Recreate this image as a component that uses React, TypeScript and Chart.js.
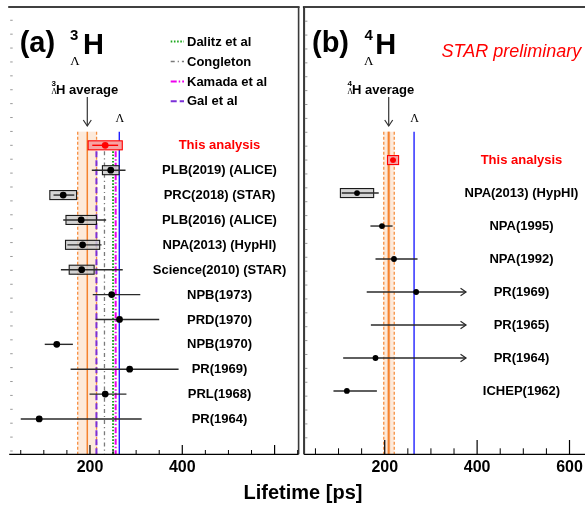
import React, { useEffect, useRef } from "react";
import { Chart, registerables } from "chart.js";

Chart.register(...registerables);

// ---------------- Panel (a): 3-Lambda-H ----------------
const ROWS_A = [
  "This analysis",
  "PLB(2019) (ALICE)",
  "PRC(2018) (STAR)",
  "PLB(2016) (ALICE)",
  "NPA(2013) (HypHI)",
  "Science(2010) (STAR)",
  "NPB(1973)",
  "PRD(1970)",
  "NPB(1970)",
  "PR(1969)",
  "PRL(1968)",
  "PR(1964)",
];
const VALUES_A: (number | null)[] = [233, 245, 142, 181, 184, 182, 247, 264, 128, 286, 233, 90];
const LOW_A = [205, 204, 121, 142, 151, 137, 206, 212, 102, 158, 199, 50];
const HIGH_A = [261, 277, 166, 235, 225, 271, 309, 350, 163, 392, 279, 312];
const SYS_A = [37, 18, 29, 33, 37, 27, 0, 0, 0, 0, 0, 0];
const LIMIT_A = [false, false, false, false, false, false, false, false, false, false, false, false];

const THEORY_NAMES = ["Dalitz et al", "Congleton", "Kamada et al", "Gal et al"];
const THEORY_VALUES = [250, 231.4, 255.7, 214];
const AVERAGE_A = [173.4, 194.2, 214.3]; // low, central, high

// ---------------- Panel (b): 4-Lambda-H ----------------
const ROWS_B = [
  "This analysis",
  "NPA(2013) (HypHI)",
  "NPA(1995)",
  "NPA(1992)",
  "PR(1969)",
  "PR(1965)",
  "PR(1964)",
  "ICHEP(1962)",
];
const VALUES_B: (number | null)[] = [218, 140, 194, 220, 268, null, 180, 118];
const LOW_B = [212, 107, 169, 180, 161, 170, 110, 89];
const HIGH_B = [224, 187, 217, 271, 376, 376, 376, 183];
const SYS_B = [12, 36, 0, 0, 0, 0, 0, 0];
const LIMIT_B = [false, false, false, false, true, true, true, false];
const AVERAGE_B = [197.9, 208.6, 220.6];
const AVERAGE_INNER_B = [205.5, 211.8];

const LAMBDA_LIFETIME = 263.5;
const MINOR_TICKS = [50, 100, 150, 250, 300, 350, 450, 500, 550, 650];
const MAJOR_TICKS = [200, 400, 600];
const TICK_LABELS_A = [200, 400];
const TICK_LABELS_B = [200, 400, 600];

// ---------------- styles ----------------
const SANS = '"Liberation Sans", Arial, Helvetica, sans-serif';
const SERIF = '"Liberation Serif", "Times New Roman", serif';
const ORANGE = "#f5822e";
const ORANGE_DASH = "#f78f40";
const PEACH = "#fdeadb";
const BLUE = "#1010ff";
const RED = "#ff0000";
const THEORY_STYLES = [
  { color: "#1fa81f", dash: [1.6, 1.6], width: 2 },
  { color: "#7a7a7a", dash: [4, 3, 1.2, 3], width: 1.3 },
  { color: "#ee00ee", dash: [6, 2, 1.5, 2], width: 2 },
  { color: "#7b2fd8", dash: [6, 3], width: 2 },
];

type Cfg = {
  key: string;
  width: number;
  height: number;
  pad: { left: number; right: number; top: number; bottom: number };
  xMin: number;
  xMax: number;
  yMin: number;
  yMax: number;
  rows: string[];
  values: (number | null)[];
  low: number[];
  high: number[];
  sys: number[];
  limit: boolean[];
  average: number[];
  inner?: number[];
  lineTop: number;
  theoryTop?: number;
  withTheory: boolean;
  tickLabels: number[];
  minorLen: number;
  majorLen: number;
  pointRadius: number;
  labelX: number;
  yTickStep: number;
  drawDivider: boolean;
  decorate: (ctx: CanvasRenderingContext2D, chart: any) => void;
};

function txt(
  ctx: CanvasRenderingContext2D,
  s: string,
  x: number,
  y: number,
  font: string,
  color = "#000",
  align: CanvasTextAlign = "left",
  base: CanvasTextBaseline = "alphabetic"
) {
  ctx.font = font;
  ctx.fillStyle = color;
  ctx.textAlign = align;
  ctx.textBaseline = base;
  ctx.fillText(s, x, y);
}

function line(ctx: CanvasRenderingContext2D, x0: number, y0: number, x1: number, y1: number, color: string, w: number, dash: number[] = []) {
  ctx.save();
  ctx.strokeStyle = color;
  ctx.lineWidth = w;
  ctx.setLineDash(dash);
  ctx.beginPath();
  ctx.moveTo(x0, y0);
  ctx.lineTo(x1, y1);
  ctx.stroke();
  ctx.restore();
}

function drawTitle(ctx: CanvasRenderingContext2D, letter: string, mass: string, p: number[]) {
  txt(ctx, letter, p[0], 52, `bold 29px ${SANS}`);
  txt(ctx, mass, p[1], 40, `bold 15px ${SANS}`);
  txt(ctx, "H", p[2], 53.5, `bold 29px ${SANS}`);
  txt(ctx, "Λ", p[3], 65, `13px ${SERIF}`);
}

function drawAverageNote(ctx: CanvasRenderingContext2D, chart: any, mass: string, x0: number, avg: number) {
  txt(ctx, mass, x0, 85.5, `bold 8px ${SANS}`);
  txt(ctx, "Λ", x0 - 0.2, 94, `8px ${SERIF}`);
  txt(ctx, "H average", x0 + 4.5, 94, `bold 13px ${SANS}`);
  const ax = chart.scales.x.getPixelForValue(avg);
  line(ctx, ax, 97, ax, 126, "#333", 1.2);
  ctx.save();
  ctx.strokeStyle = "#333";
  ctx.lineWidth = 1.2;
  ctx.beginPath();
  ctx.moveTo(ax - 4, 120);
  ctx.lineTo(ax, 126);
  ctx.lineTo(ax + 4, 120);
  ctx.stroke();
  ctx.restore();
  const lx = chart.scales.x.getPixelForValue(LAMBDA_LIFETIME);
  txt(ctx, "Λ", lx + 0.5, 121.5, `12px ${SERIF}`, "#000", "center");
}

function makePlugin(c: Cfg, pointsIndex: number) {
  return {
    id: "panel" + c.key,
    beforeDatasetsDraw(chart: any) {
      const { ctx, chartArea } = chart;
      const { x, y } = chart.scales;
      const top = y.getPixelForValue(c.lineTop);
      const x0 = x.getPixelForValue(c.average[0]);
      const x1 = x.getPixelForValue(c.average[2]);
      ctx.save();
      ctx.fillStyle = PEACH;
      ctx.fillRect(x0, top, x1 - x0, chartArea.bottom - top);
      if (c.inner) {
        const i0 = x.getPixelForValue(c.inner[0]);
        const i1 = x.getPixelForValue(c.inner[1]);
        ctx.fillStyle = "#f9b383";
        ctx.fillRect(i0, top, i1 - i0, chartArea.bottom - top);
      }
      ctx.restore();
    },
    beforeDatasetDraw(chart: any, args: any) {
      if (args.index !== pointsIndex) return;
      const { ctx } = chart;
      const { x, y } = chart.scales;
      c.rows.forEach((_, i) => {
        const yy = y.getPixelForValue(i);
        const isThis = i === 0;
        const v = c.values[i];
        if (c.sys[i] > 0 && v !== null) {
          const b0 = x.getPixelForValue(v - c.sys[i]);
          const b1 = x.getPixelForValue(v + c.sys[i]);
          ctx.save();
          ctx.fillStyle = isThis ? "#f6a4a4" : "rgba(205,205,205,0.85)";
          ctx.fillRect(b0, yy - 4.5, b1 - b0, 9);
          ctx.strokeStyle = isThis ? RED : "#1a1a1a";
          ctx.lineWidth = 1.1;
          ctx.strokeRect(b0, yy - 4.5, b1 - b0, 9);
          ctx.restore();
        }
        const l0 = x.getPixelForValue(c.low[i]);
        const l1 = x.getPixelForValue(c.high[i]);
        const col = isThis ? RED : "#2a2a2a";
        line(ctx, l0, yy, l1, yy, col, 1.4);
        if (c.limit[i]) {
          ctx.save();
          ctx.strokeStyle = col;
          ctx.lineWidth = 1.2;
          ctx.beginPath();
          ctx.moveTo(l1 - 5.5, yy - 3.8);
          ctx.lineTo(l1, yy);
          ctx.lineTo(l1 - 5.5, yy + 3.8);
          ctx.stroke();
          ctx.restore();
        }
      });
    },
    afterDraw(chart: any) {
      const { ctx, chartArea } = chart;
      const { x, y } = chart.scales;
      const L = chartArea.left;
      const R = chartArea.right;
      const T = chartArea.top;
      const B = chartArea.bottom;
      // frame
      line(ctx, L - 1, T, R + 1, T, "#000", 1.4);
      line(ctx, L, B, R, B, "#000", 1.2);
      if (!c.drawDivider) line(ctx, L, T, L, B, "#000", 1.2);
      else line(ctx, R, T, R, B, "#3a3a3a", 1.6);
      if (c.key === "b") line(ctx, L + 0.4, T, L + 0.4, B, "#3a3a3a", 1.6);
      // y ticks (unlabelled)
      for (let v = 0; v >= c.yMin; v -= c.yTickStep) {
        const py = y.getPixelForValue(v);
        if (py > T + 3) line(ctx, L + 1, py, L + 3.5, py, "#999", 1);
      }
      for (let v = c.yTickStep; v <= c.yMax; v += c.yTickStep) {
        const py = y.getPixelForValue(v);
        if (py < B - 3) line(ctx, L + 1, py, L + 3.5, py, "#999", 1);
      }
      // x ticks
      MINOR_TICKS.forEach((t) => {
        if (t <= c.xMin || t >= c.xMax) return;
        const px = x.getPixelForValue(t);
        line(ctx, px, B, px, B - c.minorLen, "#000", 1);
      });
      MAJOR_TICKS.forEach((t) => {
        if (t <= c.xMin || t >= c.xMax) return;
        const px = x.getPixelForValue(t);
        line(ctx, px, B, px, B - c.majorLen, "#000", 1.2);
      });
      c.tickLabels.forEach((t) => {
        txt(ctx, String(t), x.getPixelForValue(t), 467.5, `bold 16px ${SANS}`, "#000", "center", "middle");
      });
      // row labels
      c.rows.forEach((r, i) => {
        txt(ctx, r, c.labelX, y.getPixelForValue(i) + 0.5, `bold 13px ${SANS}`, i === 0 ? RED : "#000", "center", "middle");
      });
      c.decorate(ctx, chart);
    },
  };
}

function buildConfig(c: Cfg) {
  const datasets: any[] = [];
  const vline = (v: number, top: number, color: string, width: number, dash: number[], order: number) => ({
    data: [
      { x: v, y: top },
      { x: v, y: c.yMax },
    ],
    showLine: true,
    borderColor: color,
    borderWidth: width,
    borderDash: dash,
    pointRadius: 0,
    pointHoverRadius: 0,
    fill: false,
    order,
  });
  datasets.push(vline(c.average[0], c.lineTop, ORANGE_DASH, 1.3, [3, 2], 6));
  datasets.push(vline(c.average[2], c.lineTop, ORANGE_DASH, 1.3, [3, 2], 6));
  datasets.push(vline(c.average[1], c.lineTop, ORANGE, 1.5, [], 5));
  if (c.withTheory) {
    THEORY_VALUES.forEach((v, i) => {
      const s = THEORY_STYLES[i];
      datasets.push(vline(v, c.theoryTop as number, s.color, s.width, s.dash, 4));
    });
  }
  datasets.push(vline(LAMBDA_LIFETIME, c.lineTop, BLUE, 1.3, [], 3));
  const pts: { x: number; y: number }[] = [];
  const colors: string[] = [];
  c.values.forEach((v, i) => {
    if (v === null) return;
    pts.push({ x: v, y: i });
    colors.push(i === 0 ? RED : "#000");
  });
  datasets.push({
    data: pts,
    showLine: false,
    pointRadius: c.pointRadius,
    pointHoverRadius: c.pointRadius,
    pointBackgroundColor: colors,
    pointBorderColor: colors,
    pointBorderWidth: 0,
    order: 0,
  });
  const pointsIndex = datasets.length - 1;
  return {
    type: "scatter" as const,
    data: { datasets },
    options: {
      animation: false as const,
      responsive: false,
      devicePixelRatio: 1,
      events: [],
      layout: { padding: c.pad },
      plugins: { legend: { display: false }, tooltip: { enabled: false }, title: { display: false } },
      scales: {
        x: { type: "linear" as const, min: c.xMin, max: c.xMax, display: false },
        y: { type: "linear" as const, min: c.yMin, max: c.yMax, reverse: true, display: false },
      },
    },
    plugins: [makePlugin(c, pointsIndex)],
  };
}

const CFG_A: Cfg = {
  key: "a",
  width: 302,
  height: 506,
  pad: { left: 9.2, right: 0.8, top: 7, bottom: 51.7 },
  xMin: 25,
  xMax: 652,
  yMin: -5.56,
  yMax: 12.42,
  rows: ROWS_A,
  values: VALUES_A,
  low: LOW_A,
  high: HIGH_A,
  sys: SYS_A,
  limit: LIMIT_A,
  average: AVERAGE_A,
  lineTop: -0.55,
  theoryTop: 0.24,
  withTheory: true,
  tickLabels: TICK_LABELS_A,
  minorLen: 4.3,
  majorLen: 9.3,
  pointRadius: 3.4,
  labelX: 219.5,
  yTickStep: 0.5585,
  drawDivider: true,
  decorate: (ctx, chart) => {
    drawTitle(ctx, "(a)", "3", [19.7, 70, 83, 70.3]);
    drawAverageNote(ctx, chart, "3", 51.5, AVERAGE_A[1]);
    const ly = [41.5, 61.5, 81.5, 101.2];
    THEORY_NAMES.forEach((n, i) => {
      const s = THEORY_STYLES[i];
      line(ctx, 170.7, ly[i], 184, ly[i], s.color, s.width, s.dash);
      txt(ctx, n, 187, ly[i] + 0.5, `bold 13px ${SANS}`, "#000", "left", "middle");
    });
  },
};

const CFG_B: Cfg = {
  key: "b",
  width: 299,
  height: 506,
  pad: { left: 0.1, right: 7.4, top: 7, bottom: 51.7 },
  xMin: 25,
  xMax: 650,
  yMin: -4.64,
  yMax: 8.92,
  rows: ROWS_B,
  values: VALUES_B,
  low: LOW_B,
  high: HIGH_B,
  sys: SYS_B,
  limit: LIMIT_B,
  average: AVERAGE_B,
  inner: AVERAGE_INNER_B,
  lineTop: -0.86,
  withTheory: false,
  tickLabels: TICK_LABELS_B,
  minorLen: 6,
  majorLen: 14.3,
  pointRadius: 2.9,
  labelX: 220.5,
  yTickStep: 0.421,
  drawDivider: false,
  decorate: (ctx, chart) => {
    drawTitle(ctx, "(b)", "4", [11, 63.5, 74.3, 63]);
    drawAverageNote(ctx, chart, "4", 46.5, AVERAGE_B[1]);
    txt(ctx, "STAR preliminary", 140.5, 56.5, `italic 18px ${SANS}`, RED);
  },
};

function Panel({ cfg, left }: { cfg: Cfg; left: number }) {
  const ref = useRef<HTMLCanvasElement>(null);
  useEffect(() => {
    if (!ref.current) return;
    const chart = new Chart(ref.current, buildConfig(cfg) as any);
    return () => chart.destroy();
  }, [cfg]);
  return (
    <canvas
      ref={ref}
      width={cfg.width}
      height={cfg.height}
      style={{ position: "absolute", left, top: 0, width: cfg.width, height: cfg.height, display: "block" }}
    />
  );
}

export default function App() {
  return (
    <div
      style={{
        position: "fixed",
        left: 0,
        top: 0,
        width: 585,
        height: 506,
        overflow: "hidden",
        background: "#fff",
      }}
    >
      <Panel cfg={CFG_A} left={0} />
      <Panel cfg={CFG_B} left={301} />
      <div
        style={{
          position: "absolute",
          left: 153,
          width: 300,
          top: 481,
          height: 24,
          lineHeight: "24px",
          textAlign: "center",
          font: `bold 20px ${SANS}`,
          color: "#000",
        }}
      >
        Lifetime [ps]
      </div>
    </div>
  );
}
